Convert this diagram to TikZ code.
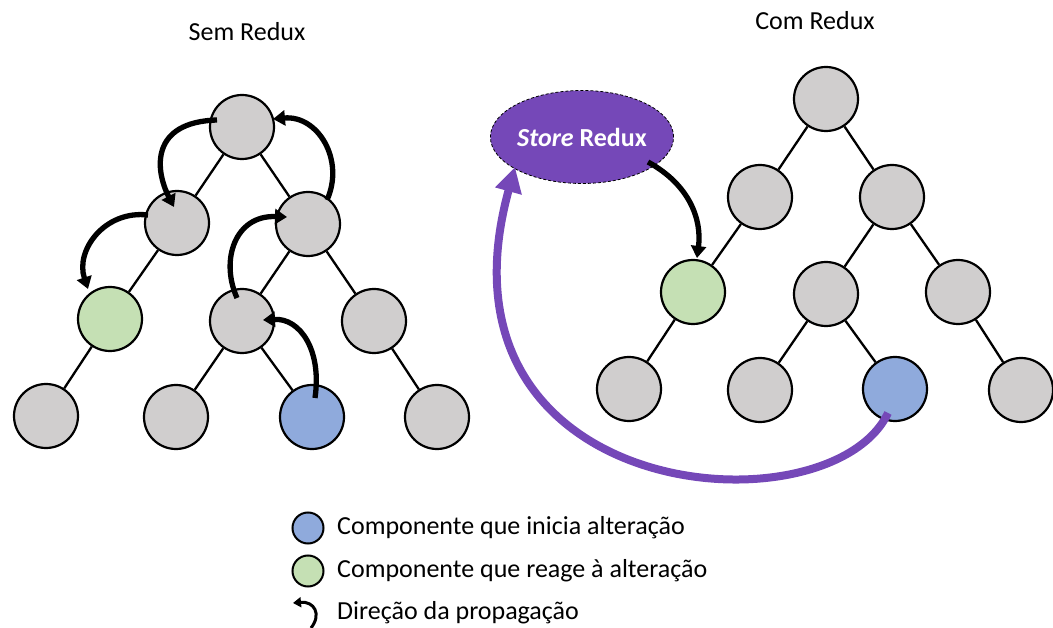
\documentclass[tikz,border=0pt]{standalone}
\usepackage{fontspec}
\setmainfont{Carlito}
\usetikzlibrary{shapes.geometric,arrows.meta,calc}
\definecolor{nodegray}{RGB}{208,206,206}
\definecolor{nodegreen}{RGB}{197,224,180}
\definecolor{nodeblue}{RGB}{143,170,220}
\definecolor{storepurple}{RGB}{117,72,184}
\begin{document}
\begin{tikzpicture}[x=1pt,y=-1pt,
  comp/.style={circle,draw,line width=2.2pt,minimum size=64pt,inner sep=0pt,fill=nodegray},
  green/.style={fill=nodegreen},
  blue/.style={fill=nodeblue},
  edge/.style={line width=2.3pt},
  prop/.style={line width=5.3pt,-{Triangle[length=12pt,width=15pt]}},
  label/.style={font=\fontsize{26pt}{31pt}\selectfont,inner sep=0pt},
  legcirc/.style={circle,draw,line width=2pt,minimum size=31pt,inner sep=0pt}]
\useasboundingbox (0,0) rectangle (1053,628);
% titles
\node[label] (t1) at (247,32) {Sem Redux};
\node[label] (t2) at (815,21) {Com Redux};
% left tree
\node[comp] (r) at (242,127) {};
\node[comp] (a) at (177,223) {};
\node[comp] (b) at (308,224) {};
\node[comp,green] (g) at (110,319) {};
\node[comp] (m) at (242,321) {};
\node[comp] (c) at (374,321) {};
\node[comp] (d1) at (46,416) {};
\node[comp] (d2) at (176,417) {};
\node[comp,blue] (d3) at (312,417) {};
\node[comp] (d4) at (437,417) {};
\draw[edge] (r) -- (a);
\draw[edge] (r) -- (b);
\draw[edge] (a) -- (g);
\draw[edge] (b) -- (m);
\draw[edge] (b) -- (c);
\draw[edge] (g) -- (d1);
\draw[edge] (m) -- (d2);
\draw[edge] (m) -- (d3);
\draw[edge] (c) -- (d4);
% propagation arrows (left)
\draw[prop] ($(r)+(-25,-7)$) .. controls (150,122) and (155,170) .. ($(a)+(-3,-16)$);
\draw[prop] ($(a)+(-29,-8)$) .. controls (105,210) and (75,250) .. ($(g)+(-22,-30)$);
\draw[prop] ($(d3)+(3,-19)$) .. controls (322,350) and (300,318) .. ($(m)+(21,-1)$);
\draw[prop] ($(m)+(-5,-23)$) .. controls (220,260) and (235,215) .. ($(b)+(-21,-7)$);
\draw[prop] ($(b)+(19,-24)$) .. controls (345,160) and (318,115) .. ($(r)+(31,-8)$);
% right tree
\node[comp] (R) at (826,99) {};
\node[comp] (A) at (760,197) {};
\node[comp] (B) at (892,197) {};
\node[comp,green] (G) at (693,292) {};
\node[comp] (M) at (826,294) {};
\node[comp] (C) at (958,292) {};
\node[comp] (D1) at (629,389) {};
\node[comp] (D2) at (760,390) {};
\node[comp,blue] (D3) at (895,389) {};
\node[comp] (D4) at (1021,390) {};
\draw[edge] (R) -- (A);
\draw[edge] (R) -- (B);
\draw[edge] (A) -- (G);
\draw[edge] (B) -- (M);
\draw[edge] (B) -- (C);
\draw[edge] (G) -- (D1);
\draw[edge] (M) -- (D2);
\draw[edge] (M) -- (D3);
\draw[edge] (C) -- (D4);
% store
\node[ellipse,draw=black,densely dashed,line width=0.8pt,fill=storepurple,
  minimum width=168pt,minimum height=93pt,inner sep=0pt,text=white,
  font=\fontsize{26pt}{31pt}\selectfont\bfseries] (S) at (582,137) {\textit{Store} Redux};
\draw[prop] ($(S)+(66,25)$) .. controls (690,185) and (702,220) .. ($(G)+(4,-34)$);
\draw[line width=8pt,storepurple,-{Triangle[length=25pt,width=26pt]}]
  ($(D3)+(-7,24)$) .. controls (830,535) and (422,505) .. ($(S)+(-67,30)$);
% legend
\node[legcirc,fill=nodeblue] (l1) at (308,528) {};
\node[legcirc,fill=nodegreen] (l2) at (308,571) {};
\node[label,anchor=west] (l1t) at (337,528) {Componente que inicia alteração};
\node[label,anchor=west] (l2t) at (337,571) {Componente que reage à alteração};
\coordinate (l3a) at (311,628);
\coordinate (l3b) at (293,603);
\draw[line width=3pt,-{Triangle[length=8pt,width=10pt]}] (l3a) .. controls (322,614) and (314,601) .. (l3b);
\node[label,anchor=west] (l3t) at (337,613) {Direção da propagação};
\end{tikzpicture}
\end{document}
